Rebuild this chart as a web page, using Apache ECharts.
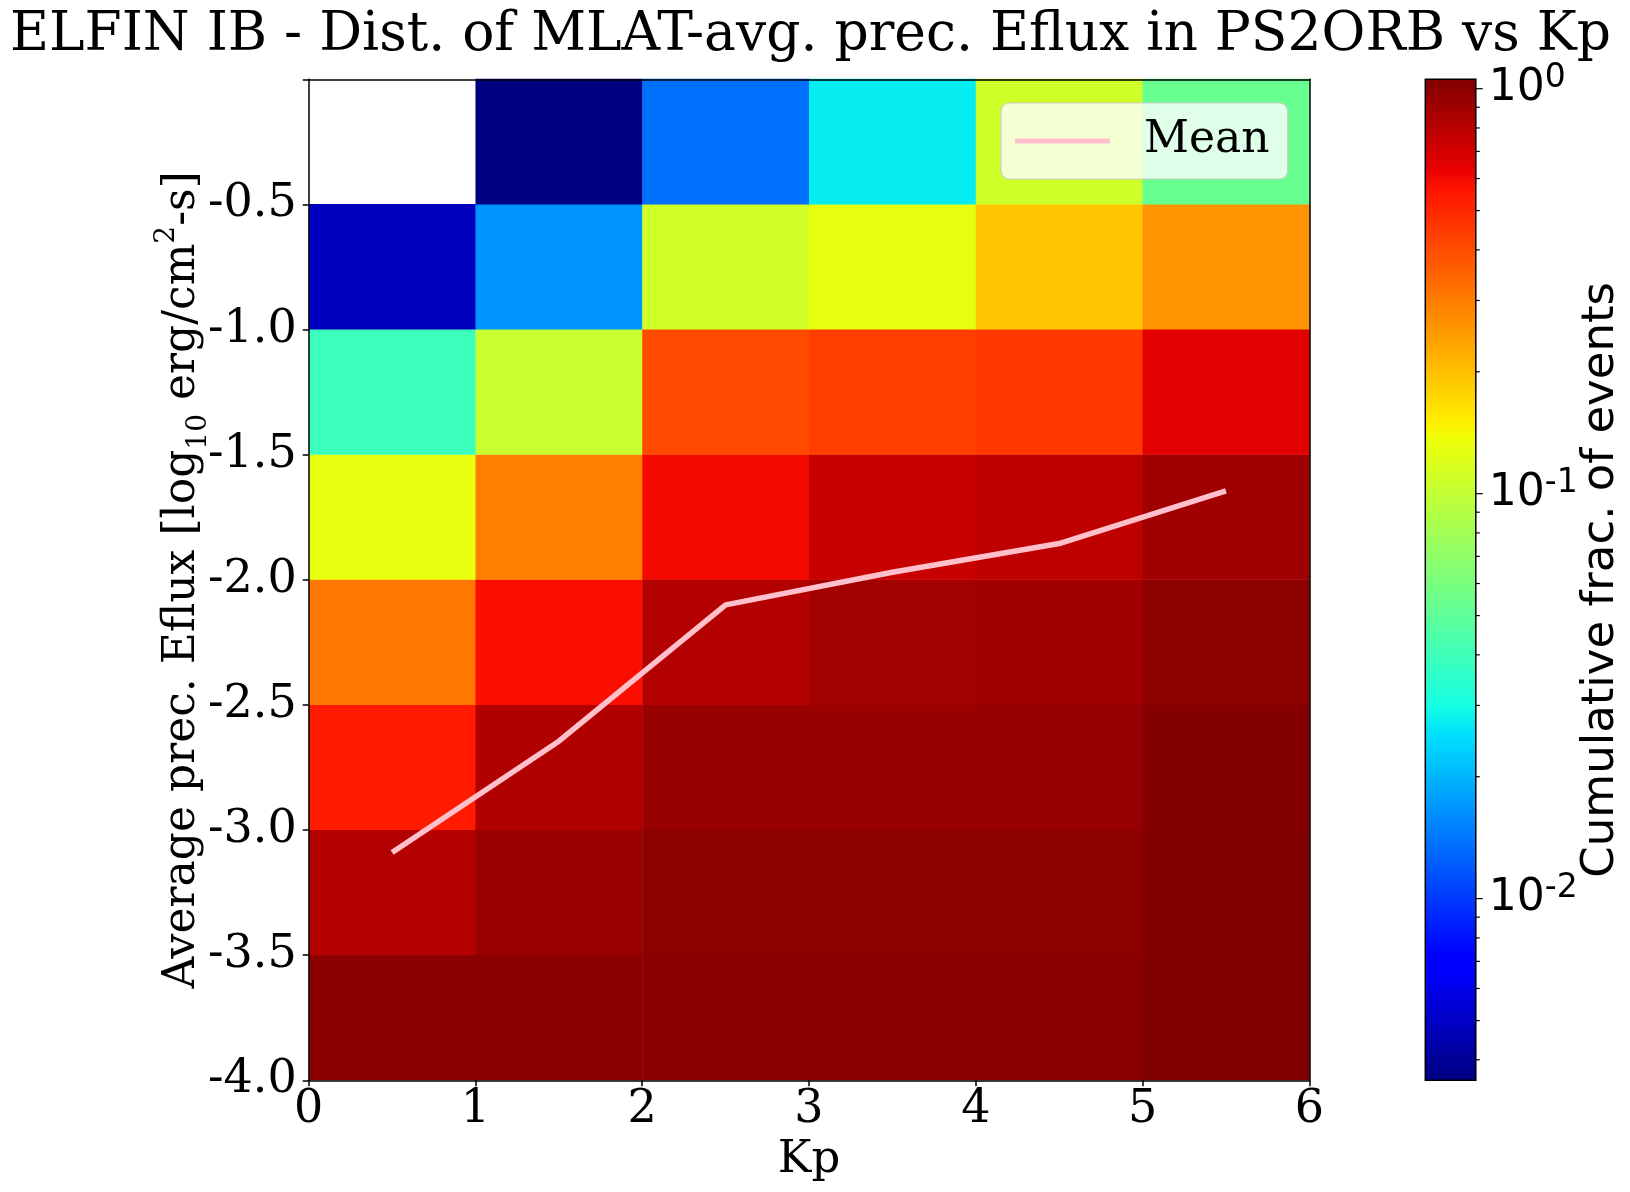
<!DOCTYPE html>
<html><head><meta charset="utf-8">
<script src="https://cdn.jsdelivr.net/npm/echarts@6/dist/echarts.min.js"></script>
<style>html,body{margin:0;padding:0;background:#fff}#c{width:1630px;height:1192px}</style>
</head><body><div id="c"></div>
<script>
// ---- data ----
const kpEdges = [0, 1, 2, 3, 4, 5, 6];
const efluxEdges = [-4.0, -3.5, -3.0, -2.5, -2.0, -1.5, -1.0, -0.5, 0.0];
// cumulative fraction of events per cell; one array per Eflux bin (bottom to top), columns Kp 0-1 ... 5-6
const fracBin0 = [1.00, 1.00, 1.00, 1.00, 1.00, 1.055];     // -4.0 .. -3.5
const fracBin1 = [0.821, 0.925, 0.99, 0.99, 0.99, 1.04];     // -3.5 .. -3.0
const fracBin2 = [0.542, 0.831, 0.931, 0.931, 0.94, 1.031];  // -3.0 .. -2.5
const fracBin3 = [0.307, 0.58, 0.821, 0.885, 0.894, 0.991];  // -2.5 .. -2.0
const fracBin4 = [0.130, 0.293, 0.597, 0.741, 0.771, 0.894]; // -2.0 .. -1.5
const fracBin5 = [0.0389, 0.1035, 0.405, 0.436, 0.45, 0.6465]; // -1.5 .. -1.0
const fracBin6 = [0.00487, 0.0166, 0.11, 0.128, 0.1934, 0.259]; // -1.0 .. -0.5
const fracBin7 = [null, 0.00356, 0.01355, 0.0272, 0.1082, 0.0531]; // -0.5 .. 0.0
const fracBins = [fracBin0, fracBin1, fracBin2, fracBin3, fracBin4, fracBin5, fracBin6, fracBin7];

const meanKp = [0.5, 1.5, 2.5, 3.5, 4.5, 5.5];
const meanEflux = [-3.09, -2.645, -2.10, -1.97, -1.855, -1.645];

const cbarMin = 0.00356, cbarMax = 1.055;
const cbarMajorTicks = [0.01, 0.1, 1];
const cbarMinorTicks = [0.004, 0.005, 0.006, 0.007, 0.008, 0.009,
  0.02, 0.03, 0.04, 0.05, 0.06, 0.07, 0.08, 0.09,
  0.2, 0.3, 0.4, 0.5, 0.6, 0.7, 0.8, 0.9];

// ---- jet colormap ----
const JR = [[0,0],[0.35,0],[0.66,1],[0.89,1],[1,0.5]];
const JG = [[0,0],[0.125,0],[0.375,1],[0.64,1],[0.91,0],[1,0]];
const JB = [[0,0.5],[0.11,1],[0.34,1],[0.65,0],[1,0]];
function seg(s, t) {
  for (let i = 1; i < s.length; i++) {
    if (t <= s[i][0]) { const a = s[i-1], b = s[i]; return a[1] + (b[1]-a[1])*(t-a[0])/(b[0]-a[0]); }
  }
  return s[s.length-1][1];
}
function jet(t) {
  t = Math.max(0, Math.min(1, t));
  return 'rgb(' + Math.round(255*seg(JR,t)) + ',' + Math.round(255*seg(JG,t)) + ',' + Math.round(255*seg(JB,t)) + ')';
}
const lmin = Math.log10(cbarMin), lmax = Math.log10(cbarMax);
function norm(v) { return (Math.log10(v) - lmin) / (lmax - lmin); }
const jetStops = [0,0.11,0.125,0.34,0.35,0.375,0.64,0.65,0.66,0.89,0.91,1].map(t => ({offset: t, color: jet(t)}));

// cells
const cells = [];
fracBins.forEach((row, r) => row.forEach((v, c) => {
  if (v != null) cells.push([kpEdges[c], kpEdges[c+1], efluxEdges[r], efluxEdges[r+1], v]);
}));

const serif = 'DejaVu Serif';
const sans = 'DejaVu Sans';
const chart = echarts.init(document.getElementById('c'), null, {renderer: 'canvas'});
chart.setOption({
  animation: false,
  backgroundColor: '#fff',
  title: {
    text: 'ELFIN IB - Dist. of MLAT-avg. prec. Eflux in PS2ORB vs Kp',
    left: 10, top: 9, padding: 0,
    textStyle: {fontFamily: serif, fontSize: 53.5, fontWeight: 'normal', color: '#000'}
  },
  legend: {
    data: ['Mean'], left: 1001, top: 103,
    padding: [16, 18, 16, 14],
    icon: 'rect', itemWidth: 95, itemHeight: 5,
    backgroundColor: 'rgba(255,255,255,0.8)', borderColor: '#cccccc', borderWidth: 1.2, borderRadius: 8,
    textStyle: {fontFamily: serif, fontSize: 44, color: '#000', lineHeight: 44, padding: [0, 0, 0, 29]},
    z: 20
  },
  grid: [
    {left: 308.7, top: 79.3, width: 1000.6, height: 1001, containLabel: false},
    {left: 1425.3, top: 79.3, width: 50.5, height: 1001, containLabel: false}
  ],
  xAxis: [
    {type: 'value', gridIndex: 0, min: 0, max: 6, interval: 1, z: 10,
     axisLine: {show: true, onZero: false, lineStyle: {color: '#000', width: 1.5}},
     axisTick: {show: true, length: 6, lineStyle: {color: '#000', width: 1.5}},
     axisLabel: {color: '#000', fontFamily: serif, fontSize: 46, margin: 7},
     splitLine: {show: false},
     name: 'Kp', nameLocation: 'middle', nameGap: 58, nameMoveOverlap: false,
     nameTextStyle: {fontFamily: serif, fontSize: 45, color: '#000'}},
    {type: 'value', gridIndex: 0, position: 'top', min: 0, max: 6, z: 10,
     axisLine: {show: true, onZero: false, lineStyle: {color: '#000', width: 1.5}},
     axisTick: {show: false}, axisLabel: {show: false}, splitLine: {show: false}},
    {type: 'value', gridIndex: 1, min: 0, max: 1, show: false}
  ],
  yAxis: [
    {type: 'value', gridIndex: 0, min: -4, max: 0, interval: 0.5, z: 10,
     axisLine: {show: true, onZero: false, lineStyle: {color: '#000', width: 1.5}},
     axisTick: {show: true, length: 6, lineStyle: {color: '#000', width: 1.5}},
     axisLabel: {color: '#000', fontFamily: serif, fontSize: 46, margin: 12,
       formatter: v => (Math.abs(v) < 1e-9 ? '' : v.toFixed(1))},
     splitLine: {show: false},
     name: 'Average prec. Eflux [log{sub|10} erg/cm{sup|2}-s]',
     nameLocation: 'middle', nameGap: 96, nameMoveOverlap: false,
     nameTextStyle: {fontFamily: serif, fontSize: 44, color: '#000', lineHeight: 60,
       rich: {
         sub: {fontFamily: serif, fontSize: 28, color: '#000', verticalAlign: 'bottom'},
         sup: {fontFamily: serif, fontSize: 28, color: '#000', verticalAlign: 'top'}
       }}},
    {type: 'value', gridIndex: 0, position: 'right', min: -4, max: 0, z: 10,
     axisLine: {show: true, onZero: false, lineStyle: {color: '#000', width: 1.5}},
     axisTick: {show: false}, axisLabel: {show: false}, splitLine: {show: false}},
    {type: 'log', logBase: 10, gridIndex: 1, position: 'right', min: cbarMin, max: cbarMax, z: 10,
     axisLine: {show: false}, axisTick: {show: false}, splitLine: {show: false},
     axisLabel: {show: true, margin: 13, color: '#000', fontFamily: sans, fontSize: 44, lineHeight: 54,
       formatter: v => {
         const e = Math.log10(v);
         if (Math.abs(e - Math.round(e)) > 1e-6) return '';
         return '{b|10}{s|' + Math.round(e) + '}';
       },
       rich: {
         b: {fontFamily: sans, fontSize: 44, color: '#000'},
         s: {fontFamily: sans, fontSize: 33, color: '#000', verticalAlign: 'top'}
       }},
     name: 'Cumulative frac. of events', nameLocation: 'middle', nameGap: 103, nameMoveOverlap: false,
     nameTextStyle: {fontFamily: sans, fontSize: 45, color: '#000'}}
  ],
  series: [
    {
      type: 'custom', xAxisIndex: 0, yAxisIndex: 0, z: 2,
      data: cells, encode: {x: [0, 1], y: [2, 3]},
      renderItem: (params, api) => {
        const p0 = api.coord([api.value(0), api.value(2)]);
        const p1 = api.coord([api.value(1), api.value(3)]);
        return {type: 'rect',
          shape: {x: p0[0], y: p1[1] - 0.5, width: p1[0] - p0[0] + 0.5, height: p0[1] - p1[1] + 0.5},
          style: {fill: jet(norm(api.value(4)))}};
      }
    },
    {
      name: 'Mean', type: 'line', xAxisIndex: 0, yAxisIndex: 0, z: 5,
      data: meanKp.map((k, i) => [k, meanEflux[i]]),
      symbol: 'none', showSymbol: false,
      itemStyle: {color: '#FFC0CB'},
      lineStyle: {color: '#FFC0CB', width: 5.5}
    },
    {
      type: 'custom', xAxisIndex: 2, yAxisIndex: 2, z: 2,
      data: [[0, cbarMin, 1, cbarMax]], encode: {x: [0, 2], y: [1, 3]},
      renderItem: (params, api) => {
        const p0 = api.coord([api.value(0), api.value(1)]);
        const p1 = api.coord([api.value(2), api.value(3)]);
        return {type: 'rect',
          shape: {x: p0[0], y: p1[1], width: p1[0] - p0[0], height: p0[1] - p1[1]},
          style: {fill: new echarts.graphic.LinearGradient(0, 1, 0, 0, jetStops), stroke: '#000', lineWidth: 1.5}};
      }
    },
    {
      type: 'custom', xAxisIndex: 2, yAxisIndex: 2, z: 6, clip: false,
      data: cbarMajorTicks.map(v => [1, v, 7]).concat(cbarMinorTicks.map(v => [1, v, 4])),
      encode: {x: 0, y: 1},
      renderItem: (params, api) => {
        const p = api.coord([api.value(0), api.value(1)]);
        return {type: 'line', shape: {x1: p[0], y1: p[1], x2: p[0] + api.value(2), y2: p[1]},
          style: {stroke: '#000', lineWidth: 1.2}};
      }
    }
  ]
});
</script>
</body></html>
